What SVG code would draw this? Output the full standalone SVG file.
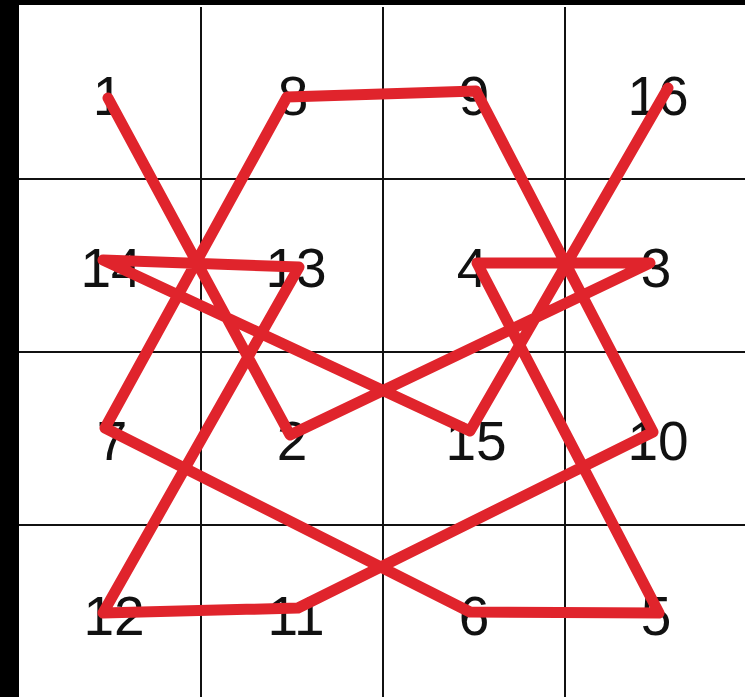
<svg xmlns="http://www.w3.org/2000/svg" width="745" height="697" viewBox="0 0 745 697">
<style>
.grid{stroke:#111;stroke-width:2;fill:none}
.path{stroke:#e0242c;stroke-width:11;fill:none;stroke-linejoin:round;stroke-linecap:round}
.num{font-family:"Liberation Sans",Arial,sans-serif;font-size:55px;fill:#111;text-anchor:middle}
</style>
<rect x="0" y="0" width="745" height="697" fill="#000"/>
<rect x="19" y="5" width="726" height="692" fill="#fff"/>
<g id="grid" class="grid">
<line x1="201" y1="7" x2="201" y2="697"/>
<line x1="383" y1="7" x2="383" y2="697"/>
<line x1="565" y1="7" x2="565" y2="697"/>
<line x1="19" y1="179" x2="745" y2="179"/>
<line x1="19" y1="352" x2="745" y2="352"/>
<line x1="19" y1="525" x2="745" y2="525"/>
</g>
<g id="labels">
<g id="n1"><text class="num" x="108" y="115">1</text></g>
<g id="n8"><text class="num" x="293" y="115">8</text></g>
<g id="n9"><text class="num" x="474" y="115">9</text></g>
<g id="n16"><text class="num" x="658" y="115">16</text></g>
<g id="n14"><text class="num" x="111" y="287">14</text></g>
<g id="n13"><text class="num" x="296" y="287">13</text></g>
<g id="n4"><text class="num" x="472" y="287">4</text></g>
<g id="n3"><text class="num" x="656" y="287">3</text></g>
<g id="n7"><text class="num" x="112" y="460">7</text></g>
<g id="n2"><text class="num" x="292" y="460">2</text></g>
<g id="n15"><text class="num" x="476" y="460">15</text></g>
<g id="n10"><text class="num" x="658" y="460">10</text></g>
<g id="n12"><text class="num" x="114" y="635">12</text></g>
<g id="n11"><text class="num" x="296" y="635">11</text></g>
<g id="n6"><text class="num" x="474" y="635">6</text></g>
<g id="n5"><text class="num" x="656" y="635">5</text></g>
</g>
<g id="connectors">
<polyline class="path" points="108,98 290,435 650,263 477,263 659,613 470,612 105,428 287,97 476,91 653,432 298,608 103,613 299,267 103,260 470,431 668,88"/>
</g>
</svg>
